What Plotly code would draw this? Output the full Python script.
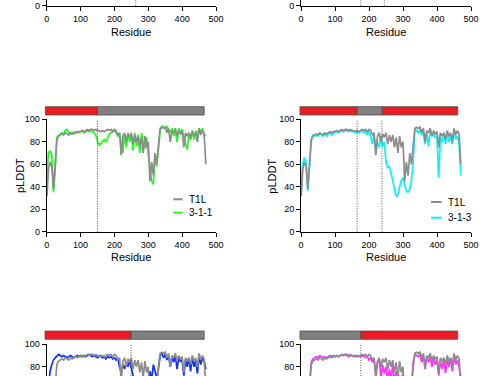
import plotly.graph_objects as go

# ---------------- data ----------------
residues = [1] + list(range(5, 471, 5))

t1l = [32, 55, 62, 58, 38, 62, 82, 85, 86, 87, 86, 88, 87, 86, 88, 87, 88, 89, 88, 89,
       89, 90, 89, 90, 91, 90, 91, 91, 90, 91, 90, 90, 89, 90, 89, 90, 91, 90, 91, 89,
       91, 90, 86, 88, 68, 85, 88, 80, 87, 84, 88, 78, 86, 80, 86, 75, 84, 70, 85, 75,
       80, 45, 62, 50, 70, 60, 80, 92, 93, 92, 93, 88, 92, 80, 90, 88, 92, 85, 90, 87,
       89, 75, 88, 85, 88, 82, 90, 85, 88, 80, 92, 86, 90, 87, 60]

v311 = [50, 70, 72, 68, 35, 55, 84, 86, 87, 88, 87, 90, 91, 88, 87, 88, 87, 88, 89, 88,
        89, 90, 88, 89, 90, 89, 90, 89, 88, 86, 80, 77, 79, 81, 82, 80, 84, 87, 88, 89,
        90, 88, 85, 87, 80, 70, 86, 75, 88, 80, 86, 72, 88, 76, 85, 70, 88, 78, 74, 84,
        68, 58, 45, 42, 68, 58, 78, 90, 94, 93, 92, 94, 90, 88, 92, 85, 90, 80, 92, 88,
        91, 85, 80, 73, 88, 85, 88, 82, 90, 85, 92, 88, 92, 85, 86]

v313 = [40, 60, 66, 62, 36, 55, 80, 86, 85, 86, 85, 87, 86, 85, 87, 85, 87, 88, 86, 88,
        88, 89, 88, 89, 90, 89, 90, 90, 89, 90, 89, 89, 88, 89, 88, 89, 90, 88, 89, 86,
        89, 85, 78, 86, 70, 80, 75, 85, 76, 80, 62, 57, 58, 52, 45, 36, 31, 33, 40, 46,
        48, 42, 36, 35, 38, 46, 62, 92, 90, 88, 91, 86, 88, 78, 88, 76, 90, 85, 87, 84,
        85, 48, 84, 80, 88, 78, 88, 80, 86, 78, 88, 82, 85, 78, 50]

v_blue = [50, 65, 76, 82, 86, 88, 90, 91, 90, 89, 90, 89, 88, 89, 90, 89, 88, 89, 90, 89,
          90, 89, 90, 89, 90, 91, 90, 89, 90, 89, 88, 89, 90, 88, 89, 87, 89, 88, 89, 87,
          88, 86, 88, 80, 75, 82, 78, 84, 80, 86, 78, 72, 65, 70, 62, 68, 60, 66, 64, 70,
          62, 76, 68, 82, 74, 70, 78, 90, 92, 88, 91, 86, 90, 80, 89, 84, 90, 78, 88, 85,
          86, 72, 86, 80, 88, 76, 89, 80, 86, 74, 90, 82, 88, 85, 78]

v_mag = [40, 55, 60, 58, 45, 62, 84, 87, 88, 89, 88, 90, 89, 88, 89, 88, 89, 90, 89, 90,
         89, 90, 89, 90, 91, 90, 91, 90, 89, 90, 90, 89, 90, 89, 90, 89, 90, 89, 88, 89,
         86, 88, 84, 86, 75, 84, 86, 70, 82, 74, 80, 68, 78, 70, 82, 66, 76, 64, 72, 68,
         74, 60, 66, 58, 70, 64, 84, 91, 90, 89, 91, 84, 90, 78, 88, 84, 89, 80, 88, 82,
         86, 72, 85, 78, 88, 74, 87, 80, 88, 76, 90, 82, 86, 78, 72]

x_ticks = [0, 100, 200, 300, 400, 500]
y_ticks = [0, 20, 40, 60, 80, 100]

# domain bars per panel: (start, end, colour) in residues
bars_mid_left = [(-4, 150, "red"), (150, 465, "gray")]
bars_mid_right = [(-3, 165, "red"), (165, 239, "gray"), (239, 461, "red")]
bars_bot_left = [(-5, 249, "red"), (249, 465, "gray")]
bars_bot_right = [(-3, 176, "gray"), (176, 461, "red")]

div_top_left = [263]
div_top_right = [176, 245]
div_mid_left = [150]
div_mid_right = [165, 238]
div_bot_left = [249]
div_bot_right = [176]

# ---------------- styling ----------------
W, H = 500, 376
FONT = "Liberation Sans, Arial, sans-serif"
GRAY = "#8c8c8c"
COLORS = {"green": "#1eff1e", "cyan": "#00f5ff", "blue": "#1030ff", "magenta": "#ff33ff"}
BARCOL = {"red": "#ec1c24", "gray": "#808080"}


def PX(px):
    return px / W


def PY(py):
    return 1 - py / H


# panel geometry in pixels
XL = (46.7, 216.0)
XR = (301.0, 471.0)
MID_Y = (119.3, 231.7)      # y=100 px, y=0 px
PX_PER_UNIT = (MID_Y[1] - MID_Y[0]) / 100.0
TOP_AX = 5.7
BOT_TOP = 344.3

fig = go.Figure()

axis_common = dict(showline=True, linecolor="black", linewidth=1, ticks="outside",
                   ticklen=4, tickwidth=1, tickcolor="black", showgrid=False,
                   zeroline=False, automargin=False,
                   tickfont=dict(family=FONT, size=9, color="black"))

layout = dict(width=W, height=H, margin=dict(l=0, r=0, t=0, b=0, pad=0, autoexpand=False),
              paper_bgcolor="white", plot_bgcolor="white", showlegend=False)

panels = [
    # name, xdom px, ydom (top px, bottom px), yrange
    ("1", XL, (0, TOP_AX), [0, TOP_AX / PX_PER_UNIT], [0]),
    ("2", XR, (0, TOP_AX), [0, TOP_AX / PX_PER_UNIT], [0]),
    ("3", XL, MID_Y, [0, 100], y_ticks),
    ("4", XR, MID_Y, [0, 100], y_ticks),
    ("5", XL, (BOT_TOP, H), [100 - (H - BOT_TOP) / PX_PER_UNIT, 100], [80, 100]),
    ("6", XR, (BOT_TOP, H), [100 - (H - BOT_TOP) / PX_PER_UNIT, 100], [80, 100]),
]

for name, xd, yd, yr, yt in panels:
    xkey = "xaxis" if name == "1" else "xaxis" + name
    ykey = "yaxis" if name == "1" else "yaxis" + name
    xa = dict(axis_common, domain=[PX(xd[0]), PX(xd[1])], range=[0, 500],
              tickvals=x_ticks, anchor="y" if name == "1" else "y" + name)
    if name in ("5", "6"):
        xa.update(showline=False, ticks="", showticklabels=False)
    ya = dict(axis_common, domain=[PY(yd[1]), PY(yd[0])], range=yr, tickvals=yt,
              anchor="x" if name == "1" else "x" + name)
    layout[xkey] = xa
    layout[ykey] = ya

fig.update_layout(**layout)


def add_series(name, values, color):
    xa = "x" if name == "1" else "x" + name
    ya = "y" if name == "1" else "y" + name
    fig.add_trace(go.Scatter(x=residues, y=values, mode="lines", xaxis=xa, yaxis=ya,
                             line=dict(color=color, width=1.7), hoverinfo="skip",
                             cliponaxis=True))


# top row panels: only their x axes are inside the crop; the curves lie above it
add_series("1", t1l, GRAY)
add_series("2", t1l, GRAY)
add_series("3", v311, COLORS["green"])
add_series("3", t1l, GRAY)
add_series("4", v313, COLORS["cyan"])
add_series("4", t1l, GRAY)
add_series("5", v_blue, COLORS["blue"])
add_series("5", t1l, GRAY)
add_series("6", v_mag, COLORS["magenta"])
add_series("6", t1l, GRAY)

shapes = []


def dref(name):
    return ("x domain" if name == "1" else "x%s domain" % name,
            "y domain" if name == "1" else "y%s domain" % name)


for name, divs in [("1", div_top_left), ("2", div_top_right), ("3", div_mid_left),
                   ("4", div_mid_right), ("5", div_bot_left), ("6", div_bot_right)]:
    xr_, yr_ = dref(name)
    for d in divs:
        shapes.append(dict(type="line", xref=xr_, yref=yr_, x0=d / 500, x1=d / 500,
                           y0=0, y1=1, line=dict(color="#444444", width=0.9, dash="1px,1.5px"),
                           layer="above"))

for name, bars, (ytop, ybot) in [("3", bars_mid_left, (106.7, 115.0)),
                                 ("4", bars_mid_right, (106.7, 115.0)),
                                 ("5", bars_bot_left, (331.0, 339.3)),
                                 ("6", bars_bot_right, (331.0, 339.3))]:
    xr_, _ = dref(name)
    for s, e, c in bars:
        shapes.append(dict(type="rect", xref=xr_, yref="paper", x0=s / 500, x1=e / 500,
                           y0=PY(ybot), y1=PY(ytop), fillcolor=BARCOL[c],
                           line=dict(color="#4d4d4d", width=0.8)))

annotations = []

# axis titles
for cx, cy in [(131.3, 31.7), (386.0, 31.7), (131.3, 257.0), (386.0, 257.0)]:
    annotations.append(dict(text="Residue", x=PX(cx), y=PY(cy), xref="paper", yref="paper",
                            showarrow=False, xanchor="center", yanchor="middle",
                            font=dict(family=FONT, size=11, color="black")))
for cx, cy in [(20.0, 176.0), (271.7, 176.0)]:
    annotations.append(dict(text="pLDDT", x=PX(cx), y=PY(cy), xref="paper", yref="paper",
                            showarrow=False, textangle=-90, xanchor="center", yanchor="middle",
                            font=dict(family=FONT, size=11, color="black")))

# legends
legends = [
    (173.3, 182.7, 199.3, 212.7, 186.5, "3-1-1", COLORS["green"]),
    (431.0, 441.7, 202.0, 217.7, 445.5, "3-1-3", COLORS["cyan"]),
]
for x0, x1, y1, y2, tx, lab, col in legends:
    for yy, c, t in [(y1, GRAY, "T1L"), (y2, col, lab)]:
        shapes.append(dict(type="line", xref="paper", yref="paper", x0=PX(x0), x1=PX(x1),
                           y0=PY(yy), y1=PY(yy), line=dict(color=c, width=2)))
        annotations.append(dict(text=t, x=PX(tx), y=PY(yy), xref="paper", yref="paper",
                                showarrow=False, xanchor="left", yanchor="middle",
                                font=dict(family=FONT, size=10, color="black")))

# fragment of the legend of the panel above (cut off by the crop)
annotations.append(dict(text="1-1-3", x=PX(194), y=PY(-3.0), xref="paper", yref="paper",
                        showarrow=False, xanchor="left", yanchor="middle",
                        font=dict(family=FONT, size=10, color="black")))

fig.update_layout(shapes=shapes, annotations=annotations)
fig.write_html("out.html",
               config={"displayModeBar": False},
               post_script="document.body.style.margin='0px';"
                           "document.documentElement.style.overflow='hidden';")
